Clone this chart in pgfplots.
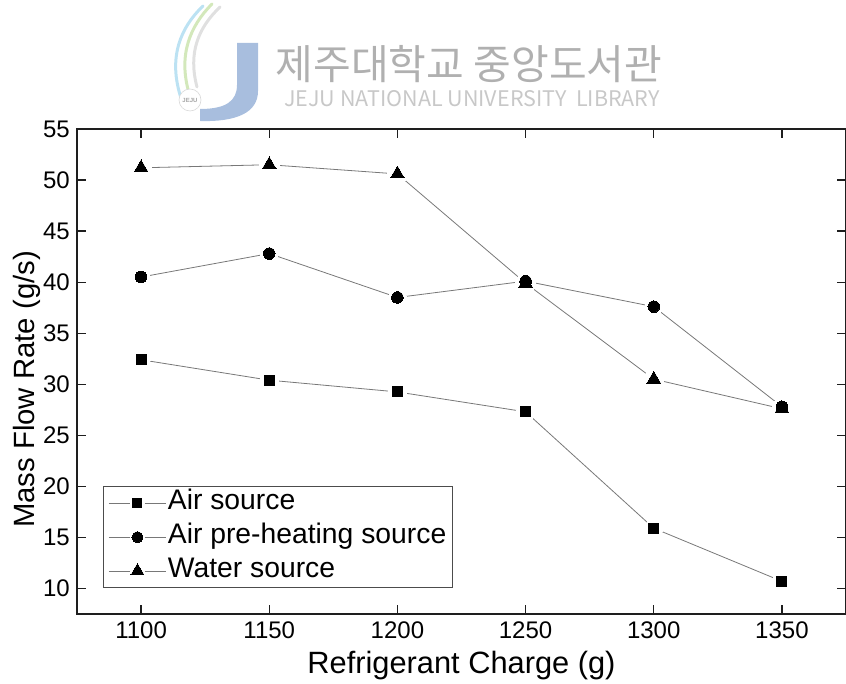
\documentclass[border=0pt]{standalone}
\usepackage{fontspec}
\setmainfont{Liberation Sans}
\newfontfamily\krfont{Noto Sans CJK KR}
\usepackage{pgfplots}
\pgfplotsset{compat=1.18}

\definecolor{wmgray}{RGB}{176,176,176}
\definecolor{wmlight}{RGB}{200,200,200}
\definecolor{jblue}{RGB}{168,190,222}
\definecolor{jcyan}{RGB}{160,214,238}
\definecolor{jgreen}{RGB}{200,226,170}
\definecolor{linegray}{RGB}{120,120,120}
\definecolor{axisdark}{RGB}{30,30,30}

% connecting line with a white gap round each point
\pgfplotsset{
  series line/.style={linegray, line width=0.8pt, mark=*,
    mark options={fill=white, draw=white, line width=0pt}, mark size=#1},
  solid marks/.style={only marks, forget plot,
    mark options={fill=black, draw=black, line width=0pt}},
  legend with mark/.style args={#1/#2}{
    legend image code/.code={
      \draw[linegray, line width=0.8pt] (0pt,0pt) -- (21pt,0pt);
      \draw[linegray, line width=0.8pt] (36pt,0pt) -- (57pt,0pt);
      \draw[black] plot[only marks, mark=#1, mark size=#2,
        mark options={fill=black, draw=black, line width=0pt}]
        coordinates {(28.5pt,0pt)};
    }},
}

\begin{document}
\begin{tikzpicture}
\useasboundingbox (0pt,0pt) rectangle (846pt,683pt);

% library watermark
\begin{scope}
  \draw[jcyan!70, line width=3pt, line cap=round]
    (181pt,585pt) .. controls (168pt,625pt) and (180pt,655pt) .. (203pt,677pt);
  \draw[jgreen!80, line width=3pt, line cap=round]
    (189pt,590pt) .. controls (178pt,628pt) and (190pt,657pt) .. (212pt,679pt);
  \draw[black!12, line width=3pt, line cap=round]
    (197pt,596pt) .. controls (188pt,630pt) and (198pt,655pt) .. (220pt,676pt);
  \fill[jblue]
    (237pt,640pt) -- (258pt,640pt) -- (258pt,592pt)
    .. controls (258pt,570pt) and (236pt,561pt) .. (200pt,562pt)
    -- (200pt,574pt)
    .. controls (226pt,574pt) and (237pt,582pt) .. (237pt,598pt) -- cycle;
  \fill[white] (190pt,583pt) circle (11pt);
  \draw[black!15, line width=0.6pt] (190pt,583pt) circle (11pt);
  \node[text=black!35, font=\fontsize{6}{7}\selectfont\bfseries, inner sep=0pt]
    at (190pt,583pt) {JEJU};
  \node[text=wmgray, font=\krfont\fontsize{41}{48}\selectfont, inner sep=0pt]
    at (469pt,619pt) {제주대학교 중앙도서관};
  \node[text=wmlight, font=\krfont\fontsize{21.5}{26}\selectfont, inner sep=0pt, anchor=base]
    at (472pt,576pt) {JEJU NATIONAL UNIVERSITY\ \ LIBRARY};
\end{scope}

\begin{axis}[
  at={(77pt,69pt)}, anchor=south west,
  scale only axis,
  width=769pt, height=485pt,
  xmin=1075, xmax=1375,
  ymin=7.5, ymax=55,
  xtick={1100,1150,1200,1250,1300,1350},
  ytick={10,15,20,25,30,35,40,45,50,55},
  tick align=inside,
  major tick length=9pt,
  axis line style={axisdark, line width=1.3pt},
  every tick/.style={axisdark, line width=1.3pt},
  xticklabel shift=8pt,
  yticklabel shift=7pt,
  /pgf/number format/assume math mode=true,
  /pgf/number format/1000 sep={},
  every tick label/.append style={inner sep=0pt, font=\fontsize{24}{28}\selectfont},
  xlabel={Refrigerant Charge (g)},
  ylabel={Mass Flow Rate (g/s)},
  xlabel style={font=\fontsize{30.8}{36}\selectfont,
    at={(axis description cs:0.5,0)}, anchor=base, yshift=-59pt},
  ylabel style={font=\fontsize{29.3}{35}\selectfont,
    at={(axis description cs:0,0.5)}, anchor=base, yshift=42pt, xshift=-18pt},
  legend cell align=left,
  legend style={
    at={(rel axis cs:0.034,0.264)}, anchor=north west,
    draw=black!70, line width=0.9pt,
    font=\fontsize{28.3}{34}\selectfont,
    inner xsep=5pt, inner ysep=2pt, row sep=4.5pt,
    nodes={inner sep=1.5pt, text height=20pt, text depth=6.5pt},
  },
]
% lines
\addplot[series line=9pt, legend with mark={square*/4.5pt}]
  coordinates {(1100,32.4) (1150,30.4) (1200,29.25) (1250,27.3) (1300,15.9) (1350,10.7)};
\addlegendentry{Air source}

\addplot[series line=9pt, legend with mark={*/5.5pt}]
  coordinates {(1100,40.5) (1150,42.8) (1200,38.5) (1250,40.1) (1300,37.6) (1350,27.8)};
\addlegendentry{Air pre-heating source}

\addplot[series line=10pt, legend with mark={triangle*/7.5pt}]
  coordinates {(1100,51.2) (1150,51.5) (1200,50.6) (1250,39.9) (1300,30.5) (1350,27.6)};
\addlegendentry{Water source}

% solid markers
\addplot[solid marks, mark=square*, mark size=5pt]
  coordinates {(1100,32.4) (1150,30.4) (1200,29.25) (1250,27.3) (1300,15.9) (1350,10.7)};
\addplot[solid marks, mark=triangle*, mark size=7.8pt]
  coordinates {(1100,51.2) (1150,51.5) (1200,50.6) (1250,39.9) (1300,30.5) (1350,27.6)};
\addplot[solid marks, mark=*, mark size=5.8pt]
  coordinates {(1100,40.5) (1150,42.8) (1200,38.5) (1250,40.1) (1300,37.6) (1350,27.8)};
\end{axis}
\end{tikzpicture}
\end{document}
